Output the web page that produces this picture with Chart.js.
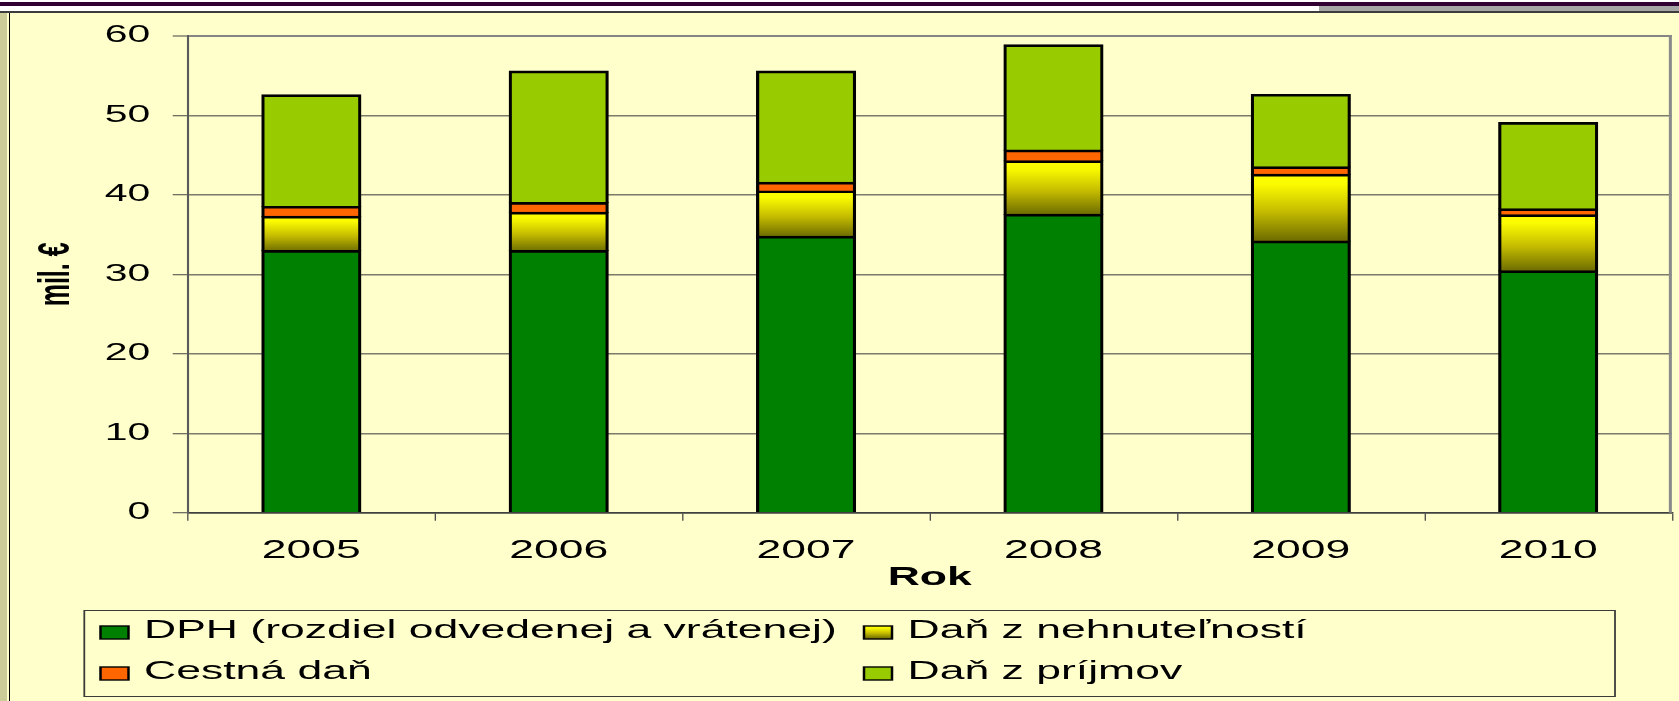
<!DOCTYPE html>
<html><head><meta charset="utf-8">
<script src="https://cdn.jsdelivr.net/npm/chart.js@4.4.1/dist/chart.umd.min.js"></script>
<style>
html,body{margin:0;padding:0;background:#FFFFCC;width:1679px;height:701px;overflow:hidden;position:relative}
.d{position:absolute}
#c{position:absolute;left:0;top:0}
</style></head><body>
<div class="d" style="left:0;top:0;width:1679px;height:11px;background:#fff"></div>
<div class="d" style="left:0;top:2px;width:1679px;height:4px;background:#330033"></div>
<div class="d" style="left:1319px;top:6px;width:360px;height:5px;background:#a6a6a6"></div>
<div class="d" style="left:0;top:11px;width:1679px;height:2px;background:#3c3c3c"></div>
<div class="d" style="left:0;top:13px;width:7px;height:688px;background:#cccc99"></div>
<div class="d" style="left:9px;top:13px;width:1px;height:688px;background:#000"></div>
<canvas id="c" width="943" height="701"></canvas>
<script>
// ---- data ----
const years = ['2005', '2006', '2007', '2008', '2009', '2010'];
const dph = [32.9, 32.9, 34.7, 37.45, 34.1, 30.35];
const nehnutelnosti = [4.3, 4.8, 5.7, 6.75, 8.4, 7.05];
const cestna = [1.25, 1.25, 1.1, 1.35, 0.95, 0.75];
const prijmov = [14.05, 16.55, 14.0, 13.25, 9.1, 10.85];
const seriesNames = ['DPH (rozdiel odvedenej a vrátenej)', 'Daň z nehnuteľností', 'Cestná daň', 'Daň z príjmov'];
const yTicks = [0, 10, 20, 30, 40, 50, 60];
const xTitle = 'Rok';
const yTitle = 'mil. €';

// ---- styles ----
const F = "'Liberation Sans', Arial, sans-serif";
const CW = 943, FULLW = 1679, S = FULLW / CW; // horizontal stretch of the original picture
const solidColors = ['#008000', null, '#FF6600', '#99CC00'];

function yellowGrad(ctx, top, bottom) {
  const g = ctx.createLinearGradient(0, top, 0, bottom);
  g.addColorStop(0, '#ffff00');
  g.addColorStop(0.15, '#fbfb00');
  g.addColorStop(0.55, '#c4bb00');
  g.addColorStop(1, '#666600');
  return g;
}
function yellowFill(c) {
  const y = c.chart.scales && c.chart.scales.y;
  if (c.type !== 'data' || !y) return '#ffff00';
  const i = c.dataIndex;
  const top = y.getPixelForValue(dph[i] + nehnutelnosti[i]);
  const bot = y.getPixelForValue(dph[i]);
  if (!isFinite(top) || !isFinite(bot) || top === bot) return '#ffff00';
  return yellowGrad(c.chart.ctx, top - 1.3, bot + 1.3);
}

const stretch = { id: 'stretch', beforeDraw(chart) { chart.ctx.setTransform(S, 0, 0, 1, 0, 0); } };

const plotBorder = { id: 'plotBorder', afterDraw(chart) {
  const { ctx, chartArea: a } = chart;
  ctx.save();
  ctx.strokeStyle = '#8a8a8a';
  ctx.lineWidth = 1.7;
  ctx.beginPath();
  ctx.moveTo(a.right - 0.85, a.top - 1);
  ctx.lineTo(a.right - 0.85, a.bottom);
  ctx.stroke();
  ctx.restore();
}};

const legendBox = { id: 'legendBox', afterDraw(chart) {
  const ctx = chart.ctx;
  const L = 84.3 / S, R = 1615 / S, T = 610, B = 697;
  ctx.save();
  ctx.fillStyle = '#FFFFCC';
  ctx.fillRect(L, T, R - L, B - T);
  ctx.strokeStyle = '#3a3a3a';
  ctx.lineWidth = 1;
  ctx.strokeRect(L, T + 0.5, R - L, B - T - 1);
  const colText = [144 / S, 907.6 / S], colMark = [100.5 / S, 864 / S], rowY = [631, 672];
  const mw = 28 / S, mh = 13;
  ctx.font = '25px ' + F;
  ctx.textBaseline = 'middle';
  ctx.textAlign = 'left';
  chart.data.datasets.forEach((ds, i) => {
    const col = i % 2, row = Math.floor(i / 2);
    const cy = rowY[row];
    const mx = colMark[col], my = cy + 1.5 - mh / 2;
    ctx.fillStyle = solidColors[i] || yellowGrad(ctx, my, my + mh);
    ctx.fillRect(mx, my, mw, mh);
    ctx.strokeStyle = '#000';
    ctx.lineWidth = 1.4;
    ctx.strokeRect(mx, my, mw, mh);
    ctx.fillStyle = '#000';
    ctx.fillText(ds.label, colText[col], cy);
  });
  ctx.restore();
}};

const barCommon = {
  borderColor: '#000',
  borderWidth: { top: 2.7, left: 1.8, right: 1.8, bottom: 0 },
  borderSkipped: 'bottom',
  inflateAmount: 1.3,
  barPercentage: 0.386,
  categoryPercentage: 1,
  clip: { left: false, right: false, top: false, bottom: 0 }
};

const chart = new Chart(document.getElementById('c'), {
  type: 'bar',
  data: {
    labels: years,
    datasets: [
      Object.assign({ label: seriesNames[0], data: dph, backgroundColor: solidColors[0] }, barCommon),
      Object.assign({ label: seriesNames[1], data: nehnutelnosti, backgroundColor: yellowFill }, barCommon),
      Object.assign({ label: seriesNames[2], data: cestna, backgroundColor: solidColors[2] }, barCommon),
      Object.assign({ label: seriesNames[3], data: prijmov, backgroundColor: solidColors[3] }, barCommon)
    ]
  },
  options: {
    responsive: false,
    devicePixelRatio: 1,
    animation: false,
    events: [],
    layout: { padding: { top: 36, left: 0, right: 4, bottom: 108.3 } },
    plugins: { legend: { display: false }, tooltip: { enabled: false } },
    scales: {
      x: {
        stacked: true,
        offset: true,
        grid: { display: true, drawOnChartArea: false, drawTicks: true, tickLength: 8, offset: true, color: '#404040', lineWidth: 0.7 },
        border: { display: true, color: '#404040', width: 1.5 },
        ticks: { color: '#000', font: { family: F, size: 25 }, padding: 15, maxRotation: 0, autoSkip: false },
        title: { display: true, text: xTitle, color: '#000', font: { family: F, size: 25, weight: 'bold' }, padding: { top: 0, bottom: 0 } },
        afterFit: s => { s.height = 80; }
      },
      y: {
        stacked: true,
        min: yTicks[0],
        max: yTicks[yTicks.length - 1],
        afterBuildTicks: s => { s.ticks = yTicks.map(v => ({ value: v })); },
        ticks: { color: '#000', font: { family: F, size: 23 }, padding: 12.6 },
        grid: {
          color: c => (c.tick && c.tick.value === 0) ? '#404040' : (c.tick && c.tick.value === 60 ? '#858585' : '#7b7b6b'),
          lineWidth: c => (c.tick && c.tick.value === 60) ? 2 : 1.5,
          tickLength: 8.4,
          tickColor: '#404040',
          tickWidth: 1
        },
        border: { display: true, color: '#5a5a5a', width: 1.2 },
        title: { display: true, text: yTitle, color: '#000', font: { family: F, size: 25, weight: 'bold' }, padding: { top: 17, bottom: 0 } },
        afterFit: s => { s.width = 105.4; }
      }
    }
  },
  plugins: [stretch, plotBorder, legendBox]
});

// widen the drawing surface to the full page; the chart keeps its layout and is drawn stretched
const cv = chart.canvas;
cv.width = FULLW;
cv.style.width = FULLW + 'px';
cv.style.height = '701px';
chart.draw();
</script>
</body></html>
